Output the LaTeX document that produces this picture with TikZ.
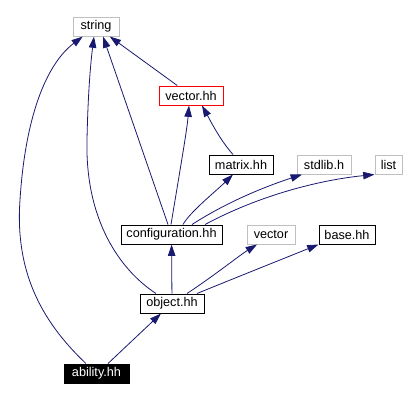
\documentclass[tikz,border=0pt]{standalone}
\usepackage{fontspec}
\setmainfont{Liberation Sans}
\usetikzlibrary{arrows.meta,calc}
\definecolor{edgeblue}{HTML}{191970}
\definecolor{boxgray}{HTML}{BFBFBF}
\begin{document}
\begin{tikzpicture}[x=0.75pt,y=-0.75pt,
  box/.style={draw=black,line width=0.75pt,inner sep=0pt,minimum height=14.25pt,
    font=\fontsize{9.5}{11}\selectfont,fill=white},
  graybox/.style={box,draw=boxgray},
  redbox/.style={box,draw=red},
  blackbox/.style={box,fill=black,text=white},
  edge/.style={draw=edgeblue,line width=0.6pt,-{Triangle[length=8.5pt,width=5.6pt]}}
]
\useasboundingbox (0,0) rectangle (417,401);
\node[graybox,minimum width=34.5pt] (str) at (96,26.5) {string};
\node[redbox,minimum width=48pt] (vec) at (191,95.5) {vector.hh};
\node[box,minimum width=48pt] (mat) at (241,164.5) {matrix.hh};
\node[graybox,minimum width=40.5pt] (std) at (324,164.5) {stdlib.h};
\node[graybox,minimum width=20.25pt] (lst) at (388.5,164.5) {list};
\node[box,minimum width=75.75pt] (cfg) at (171.5,234.5) {configuration.hh};
\node[graybox,minimum width=36pt] (vct) at (271,234.5) {vector};
\node[box,minimum width=42pt] (bas) at (347,234.5) {base.hh};
\node[box,minimum width=48pt] (obj) at (172,303.5) {object.hh};
\node[blackbox,minimum width=48.75pt] (abl) at (96.5,373.5) {ability.hh};

\draw[edge] ($(abl.north)+(11.5,0)$) -- ($(obj.south)+(-11,0)$);
\draw[edge] (abl) .. controls (40,320) and (15,270) .. (20,200)
  .. controls (25,120) and (45,65) .. (str);
\draw[edge] ($(obj.north)+(-16,0)$) .. controls (120,270) and (85,220) .. (87,140)
  .. controls (88,90) and (91,60) .. ($(str.south)+(-2,0)$);
\draw[edge] ($(cfg.north)+(-3.5,0)$) -- ($(str.south)+(7,0)$);
\draw[edge] (vec) -- (str);
\draw[edge] ($(cfg.north)+(-0.5,0)$) .. controls (180,170) and (187,130) .. ($(vec.south)+(-2,0)$);
\draw[edge] ($(mat.north)+(-8,0)$) .. controls (220,140) and (210,120) .. ($(vec.south)+(11,0)$);
\draw[edge] ($(cfg.north)+(11.5,0)$) .. controls (190,212) and (215,192) .. ($(mat.south)+(-8,0)$);
\draw[edge] ($(cfg.north)+(20.5,0)$) .. controls (230,200) and (270,185) .. ($(std.south)+(-22,0)$);
\draw[edge] ($(cfg.north)+(33.5,0)$) .. controls (260,195) and (320,180) .. (lst.south west);
\draw[edge] (obj) -- (cfg);
\draw[edge] ($(obj.north)+(15,0)$) .. controls (215,275) and (240,255) .. ($(vct.south)+(-14,0)$);
\draw[edge] ($(obj.north)+(25,0)$) .. controls (225,282) and (280,260) .. (bas.south west);
\end{tikzpicture}
\end{document}
